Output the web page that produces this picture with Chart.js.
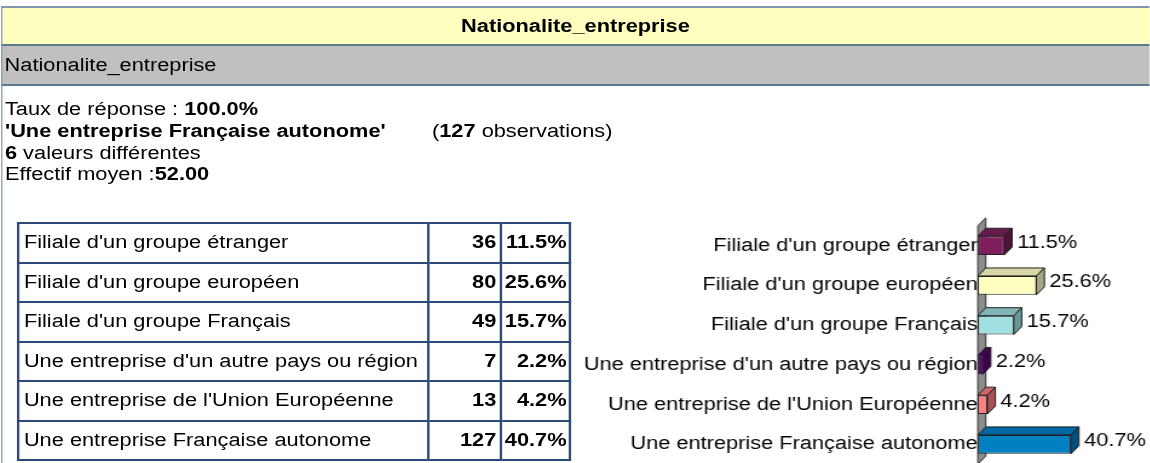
<!DOCTYPE html>
<html>
<head>
<meta charset="utf-8">
<script src="https://cdn.jsdelivr.net/npm/chart.js@4/dist/chart.umd.min.js"></script>
<style>
  html, body { margin:0; padding:0; background:#fff; overflow:hidden; width:1150px; height:463px; }
  #page { position:absolute; left:0; top:0; width:950.4px; height:480px; transform:scaleX(1.21); transform-origin:0 0;
          font-family:"Liberation Sans", Arial, sans-serif; font-size:18px; color:#000; }
  .abs { position:absolute; }
  #topline { left:0.8px; top:6px; width:949.6px; height:2px; background:#8197ae; }
  #band1 { left:0.8px; top:8px; width:949.6px; height:36px; background:#ffffc0; text-align:center; line-height:36px; font-weight:bold; }
  #line2 { left:0.8px; top:44px; width:949.6px; height:2px; background:#5b7b8c; }
  #band2 { left:0.8px; top:46px; width:949.6px; height:38px; background:#c0c0c0; line-height:38px; }
  #band2 span { padding-left:3px; }
  #line3 { left:0.8px; top:84px; width:949.6px; height:2px; background:#5b7890; }
  #leftline { left:0.6px; top:6px; width:1.6px; height:470px; background:#7f95ae; }
  .info { left:4.1px; line-height:22px; white-space:nowrap; }
  table { position:absolute; left:14.05px; top:222px; border-collapse:collapse; table-layout:fixed; width:456.2px; }
  td { border:2px solid #2b4a78; height:37.5px; padding:0; white-space:nowrap; }
  td.l { padding-left:3.7px; }
  td.n { text-align:right; font-weight:bold; padding-right:3px; }
  td.p { text-align:right; font-weight:bold; padding-right:2px; }
  #chartBox { left:470.2px; top:215px; width:480.2px; height:260px; }
</style>
</head>
<body>
<div id="page">
  <div class="abs" id="topline"></div>
  <div class="abs" id="band1">Nationalite_entreprise</div>
  <div class="abs" id="line2"></div>
  <div class="abs" id="band2"><span>Nationalite_entreprise</span></div>
  <div class="abs" id="line3"></div>
  <div class="abs" id="leftline"></div>
  <div class="abs info" style="top:98px">Taux de réponse : <b>100.0%</b></div>
  <div class="abs info" style="top:120px"><b>'Une entreprise Française autonome'</b></div>
  <div class="abs info" style="top:120px; left:357px">(<b>127</b> observations)</div>
  <div class="abs info" style="top:141.5px"><b>6</b> valeurs différentes</div>
  <div class="abs info" style="top:163px">Effectif moyen :<b>52.00</b></div>
  <table id="tbl">
    <colgroup><col style="width:338.85px"><col style="width:60.3px"><col style="width:57.05px"></colgroup>
    <tbody id="tbody"></tbody>
  </table>
  <div class="abs" id="chartBox"><canvas id="c" width="480" height="260"></canvas></div>
</div>
<script>
const categories = [
  "Filiale d'un groupe étranger",
  "Filiale d'un groupe européen",
  "Filiale d'un groupe Français",
  "Une entreprise d'un autre pays ou région",
  "Une entreprise de l'Union Européenne",
  "Une entreprise Française autonome"
];
const counts = [36, 80, 49, 7, 13, 127];
const percents = [11.5, 25.6, 15.7, 2.2, 4.2, 40.7];
const percentLabels = ["11.5%", "25.6%", "15.7%", "2.2%", "4.2%", "40.7%"];

const frontColors = ["#801f60", "#ffffc0", "#a0e0e0", "#600080", "#ff8080", "#0080c0"];
const topColors   = ["#661a4d", "#d6d6a6", "#82b6b6", "#4c0066", "#d06868", "#0068a0"];
const sideColors  = ["#4d1339", "#a8a884", "#6a9898", "#3a004e", "#a85252", "#005080"];

const tbody = document.getElementById('tbody');
categories.forEach((c, i) => {
  const tr = document.createElement('tr');
  const td1 = document.createElement('td'); td1.className = 'l'; td1.textContent = c;
  const td2 = document.createElement('td'); td2.className = 'n'; td2.textContent = counts[i];
  const td3 = document.createElement('td'); td3.className = 'p'; td3.textContent = percentLabels[i];
  tr.appendChild(td1); tr.appendChild(td2); tr.appendChild(td3);
  tbody.appendChild(tr);
});

const DX = 6.6, DY = 8;
const FONT = '"Liberation Sans", Arial, sans-serif';

const threeD = {
  id: 'threeD',
  beforeDatasetsDraw(chart) {
    const ctx = chart.ctx, ca = chart.chartArea;
    const x0 = chart.scales.x.getPixelForValue(0);
    ctx.save();
    ctx.beginPath();
    ctx.moveTo(x0, ca.top);
    ctx.lineTo(x0 + DX, ca.top - DY);
    ctx.lineTo(x0 + DX, ca.bottom - DY);
    ctx.lineTo(x0, ca.bottom);
    ctx.closePath();
    ctx.fillStyle = '#8c8c8c';
    ctx.fill();
    ctx.strokeStyle = '#333';
    ctx.lineWidth = 1;
    ctx.stroke();
    ctx.restore();
  },
  afterDatasetsDraw(chart) {
    const ctx = chart.ctx;
    const meta = chart.getDatasetMeta(0);
    ctx.save();
    ctx.lineWidth = 1;
    ctx.strokeStyle = '#222';
    meta.data.forEach((bar, i) => {
      const p = bar.getProps(['x', 'y', 'base', 'height'], true);
      const l = p.base, r = p.x, t = p.y - p.height / 2, b = p.y + p.height / 2;
      ctx.beginPath();
      ctx.moveTo(l, t); ctx.lineTo(l + DX, t - DY); ctx.lineTo(r + DX, t - DY); ctx.lineTo(r, t); ctx.closePath();
      ctx.fillStyle = topColors[i]; ctx.fill(); ctx.stroke();
      ctx.beginPath();
      ctx.moveTo(r, t); ctx.lineTo(r + DX, t - DY); ctx.lineTo(r + DX, b - DY); ctx.lineTo(r, b); ctx.closePath();
      ctx.fillStyle = sideColors[i]; ctx.fill(); ctx.stroke();
      ctx.fillStyle = '#000';
      ctx.font = '18px ' + FONT;
      ctx.textAlign = 'left';
      ctx.textBaseline = 'middle';
      ctx.fillText(percentLabels[i], r + DX + 4.2, p.y - 3);
    });
    ctx.restore();
  }
};

new Chart(document.getElementById('c'), {
  type: 'bar',
  data: {
    labels: categories,
    datasets: [{
      data: percents,
      backgroundColor: frontColors,
      borderColor: '#222',
      borderWidth: 1,
      borderSkipped: false,
      barPercentage: 0.475,
      categoryPercentage: 1
    }]
  },
  options: {
    indexAxis: 'y',
    responsive: false,
    animation: false,
    devicePixelRatio: 1,
    layout: { padding: { top: 10, bottom: 10, left: 0, right: 0 } },
    plugins: { legend: { display: false }, tooltip: { enabled: false }, title: { display: false } },
    scales: {
      x: { display: false, min: 0, max: 75 },
      y: {
        grid: { display: false, drawTicks: false },
        border: { display: false },
        ticks: { color: '#000', font: { family: FONT, size: 18 }, padding: 0 },
        afterFit(scale) { scale.width = 338.1; }
      }
    }
  },
  plugins: [threeD]
});
</script>
</body>
</html>
